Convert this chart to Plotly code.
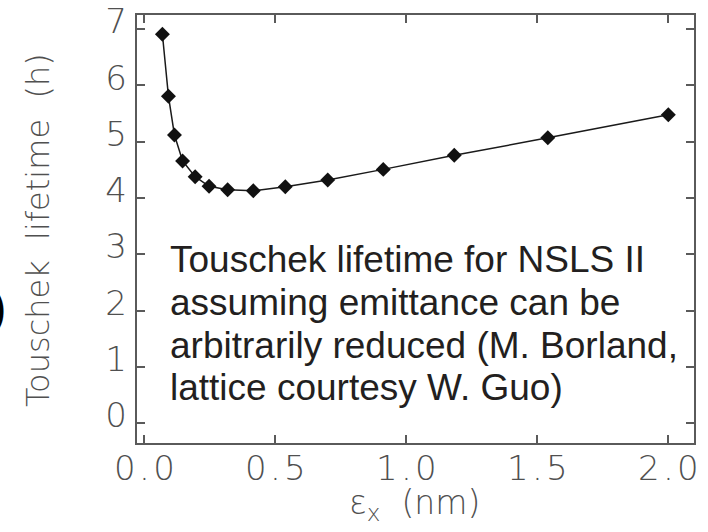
import plotly.graph_objects as go

# Data
emittance_nm = [0.069, 0.092, 0.115, 0.146, 0.194, 0.247, 0.318, 0.416,
                0.538, 0.700, 0.912, 1.183, 1.540, 2.000]
lifetime_h = [6.91, 5.81, 5.12, 4.66, 4.38, 4.21, 4.15, 4.13,
              4.20, 4.32, 4.51, 4.76, 5.07, 5.48]

x_tick_vals = [0.0, 0.5, 1.0, 1.5, 2.0]
x_tick_labels = ["0.0", "0.5", "1.0", "1.5", "2.0"]
y_tick_vals = [0, 1, 2, 3, 4, 5, 6, 7]
y_tick_labels = ["0", "1", "2", "3", "4", "5", "6", "7"]

note_lines = [
    "Touschek lifetime for NSLS II",
    "assuming emittance can be",
    "arbitrarily reduced (M. Borland,",
    "lattice courtesy W. Guo)",
]
y_title = "Touschek lifetime (h)"
x_title = "ε<sub>x</sub>  (nm)"

W, H = 708, 532
ML, MR, MT, MB = 137, 14, 15, 89
PW, PH = W - ML - MR, H - MT - MB

X_RANGE = [-0.028, 2.098]
Y_RANGE = [-0.35, 7.252]
LABEL_SHIFT = 0.14

AXIS_COLOR = "#5a5a5a"
TEXT_COLOR = "#505050"
tick_font = dict(family="DejaVu Sans", size=34, color=TEXT_COLOR, weight=200)


def px_to_paper_x(px):
    return (px - ML) / PW


def px_to_paper_y(py):
    return (MT + PH - py) / PH


def spaced(s):
    return "\u200a".join(s)


fig = go.Figure()
fig.add_trace(go.Scatter(
    x=emittance_nm, y=lifetime_h, mode="lines+markers",
    line=dict(color="#1a1a1a", width=1.5),
    marker=dict(symbol="diamond", size=11.5, color="#111111"),
    showlegend=False, hoverinfo="skip",
))
# invisible companion trace so the label axis is drawn
fig.add_trace(go.Scatter(
    x=emittance_nm, y=lifetime_h, yaxis="y2", mode="markers",
    marker=dict(opacity=0), showlegend=False, hoverinfo="skip",
))

fig.update_layout(
    width=W, height=H,
    margin=dict(l=ML, r=MR, t=MT, b=MB, autoexpand=False),
    paper_bgcolor="white", plot_bgcolor="white",
    xaxis=dict(
        range=X_RANGE, tickvals=x_tick_vals,
        ticktext=[spaced(t) for t in x_tick_labels],
        ticks="inside", ticklen=8, tickwidth=2, tickcolor=AXIS_COLOR,
        showline=True, linecolor=AXIS_COLOR, linewidth=2, mirror="ticks",
        showgrid=False, zeroline=False, tickfont=tick_font,
        ticklabelstandoff=-6,
    ),
    yaxis=dict(
        range=Y_RANGE, tickvals=y_tick_vals, showticklabels=False,
        ticks="inside", ticklen=8, tickwidth=2, tickcolor=AXIS_COLOR,
        showline=True, linecolor=AXIS_COLOR, linewidth=2, mirror="ticks",
        showgrid=False, zeroline=False,
    ),
    yaxis2=dict(
        range=[Y_RANGE[0] - LABEL_SHIFT, Y_RANGE[1] - LABEL_SHIFT],
        overlaying="y", side="left", tickvals=y_tick_vals,
        ticktext=y_tick_labels, ticks="", showline=False,
        showgrid=False, zeroline=False, tickfont=tick_font,
        ticklabelstandoff=9,
    ),
)

# Note text, one annotation per line
line_centers_px = [259, 302, 345, 387]
for txt, cy in zip(note_lines, line_centers_px):
    fig.add_annotation(
        text=txt, xref="paper", yref="paper",
        x=px_to_paper_x(168), y=px_to_paper_y(cy),
        xanchor="left", yanchor="middle", showarrow=False,
        font=dict(family="Liberation Sans, Arial", size=37, color="#231f20"),
    )

# Axis titles
fig.add_annotation(
    text=y_title.replace(" ", "\u00a0\u00a0"), xref="paper", yref="paper",
    x=px_to_paper_x(38), y=px_to_paper_y(230), textangle=-90,
    xanchor="center", yanchor="middle", showarrow=False,
    font=dict(family="DejaVu Sans", size=32, color=TEXT_COLOR, weight=200),
)
fig.add_annotation(
    text=x_title.replace(" ", "\u00a0"), xref="paper", yref="paper",
    x=px_to_paper_x(414.6), y=px_to_paper_y(504),
    xanchor="center", yanchor="middle", showarrow=False,
    font=dict(family="DejaVu Sans", size=33, color=TEXT_COLOR, weight=200),
)

# cropped fragment of neighbouring slide text at the left edge
fig.add_annotation(
    text=")", xref="paper", yref="paper",
    x=px_to_paper_x(7.5), y=px_to_paper_y(307),
    xanchor="right", yanchor="middle", showarrow=False,
    font=dict(family="Liberation Sans, Arial", size=44, color="#000000", weight=700),
)

fig.write_html("out.html")
